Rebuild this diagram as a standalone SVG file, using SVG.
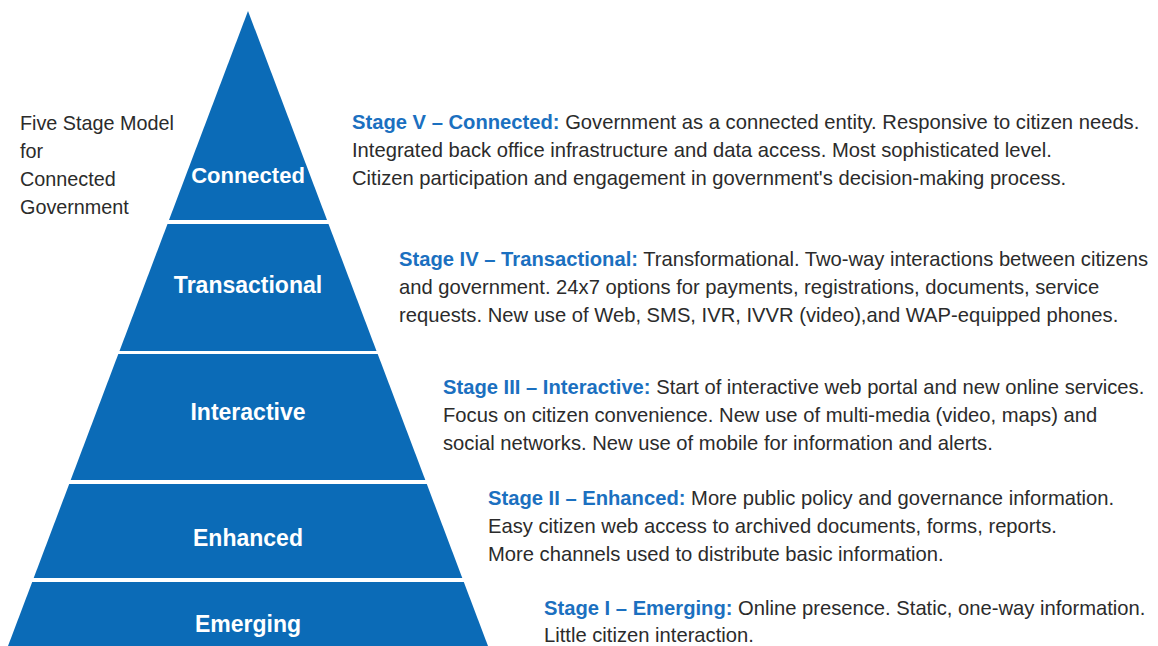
<svg xmlns="http://www.w3.org/2000/svg" width="1158" height="646" viewBox="0 0 1158 646">
<style>
.band{fill:#0B6BB7;}
.bl{font-family:"Liberation Sans",Arial,sans-serif;font-weight:bold;font-size:23px;fill:#ffffff;text-anchor:middle;}
.tx{font-family:"Liberation Sans",Arial,sans-serif;font-size:20.2px;fill:#2b2b2b;}
.hd{font-weight:bold;fill:#1B70C0;}
</style>
<rect width="1158" height="646" fill="#ffffff"/>
<g id="title">
<text class="tx" x="20" y="130" style="font-size:19.8px">Five Stage Model</text>
<text class="tx" x="20" y="158" style="font-size:19.8px">for</text>
<text class="tx" x="20" y="186" style="font-size:19.8px">Connected</text>
<text class="tx" x="20" y="214" style="font-size:19.8px">Government</text>
</g>
<g id="connected">
<polygon class="band" points="248,11 327,220 169,220"/>
<text class="bl" x="248" y="183" style="font-size:22px">Connected</text>
</g>
<g id="transactional">
<polygon class="band" points="167.5,224 328.5,224 376.5,351 119.5,351"/>
<text class="bl" x="248" y="293">Transactional</text>
</g>
<g id="interactive">
<polygon class="band" points="118.3,354 377.7,354 425.3,480 70.7,480"/>
<text class="bl" x="248" y="420">Interactive</text>
</g>
<g id="enhanced">
<polygon class="band" points="69.2,484 426.8,484 462.3,578 33.7,578"/>
<text class="bl" x="248" y="546">Enhanced</text>
</g>
<g id="emerging">
<polygon class="band" points="32.2,582 463.8,582 489.5,650 6.5,650"/>
<text class="bl" x="248" y="632">Emerging</text>
</g>
<g id="desc5">
<text class="tx" x="352" y="129"><tspan class="hd">Stage V – Connected:</tspan> Government as a connected entity. Responsive to citizen needs.</text>
<text class="tx" x="352" y="157">Integrated back office infrastructure and data access. Most sophisticated level.</text>
<text class="tx" x="352" y="185">Citizen participation and engagement in government's decision-making process.</text>
</g>
<g id="desc4">
<text class="tx" x="399" y="266"><tspan class="hd">Stage IV – Transactional:</tspan> Transformational. Two-way interactions between citizens</text>
<text class="tx" x="399" y="294">and government. 24x7 options for payments, registrations, documents, service</text>
<text class="tx" x="399" y="322">requests. New use of Web, SMS, IVR, IVVR (video),and WAP-equipped phones.</text>
</g>
<g id="desc3">
<text class="tx" x="443" y="394"><tspan class="hd">Stage III – Interactive:</tspan> Start of interactive web portal and new online services.</text>
<text class="tx" x="443" y="422">Focus on citizen convenience. New use of multi-media (video, maps) and</text>
<text class="tx" x="443" y="450">social networks. New use of mobile for information and alerts.</text>
</g>
<g id="desc2">
<text class="tx" x="488" y="505"><tspan class="hd">Stage II – Enhanced:</tspan> More public policy and governance information.</text>
<text class="tx" x="488" y="533">Easy citizen web access to archived documents, forms, reports.</text>
<text class="tx" x="488" y="561">More channels used to distribute basic information.</text>
</g>
<g id="desc1">
<text class="tx" x="544" y="615"><tspan class="hd">Stage I – Emerging:</tspan> Online presence. Static, one-way information.</text>
<text class="tx" x="544" y="642">Little citizen interaction.</text>
</g>
</svg>
